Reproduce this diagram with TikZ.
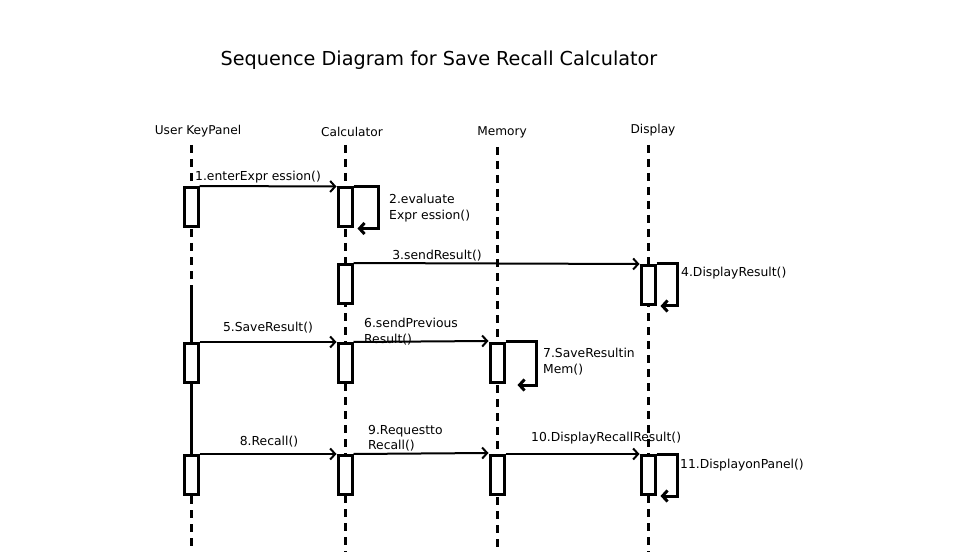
\documentclass[tikz,border=0pt]{standalone}
\usepackage{fontspec}
\setmainfont{DejaVu Sans}
\usetikzlibrary{arrows.meta}

\tikzset{
  head/.style={inner sep=0pt,font=\fontsize{12.2}{14}\selectfont},
  lifeline/.style={line width=3bp,dash pattern=on 8bp off 6bp},
  actbox/.style={draw,line width=3bp,fill=white,minimum width=14bp,minimum height=39bp,inner sep=0pt},
  msg/.style={-{Straight Barb[length=5bp,width=11bp]},line width=2bp},
  loop/.style={msg,line width=3bp},
  lbl/.style={inner sep=0pt,align=left,font=\fontsize{12.4}{15.5}\selectfont}
}

\begin{document}
\begin{tikzpicture}[x=1bp,y=-1bp]
\useasboundingbox (0,0) rectangle (970,552);
%%
\node[inner sep=0pt,font=\fontsize{19.3}{22}\selectfont] (title) at (439,60) {Sequence Diagram for Save Recall Calculator};
  % Lifeline heads
\node[head] (user) at (198,131.5) {User KeyPanel};
\node[head] (calc) at (352,131.5) {Calculator};
\node[head] (mem) at (502,132.5) {Memory};
\node[head] (disp) at (653,130.5) {Display};
\coordinate (usertop) at (191,145);
\coordinate (calctop) at (345,145);
\coordinate (memtop) at (497,147);
\coordinate (disptop) at (648,145);
\coordinate (usersolid) at (191,288);
  % Lifelines
\draw[lifeline] (usertop) -- (usersolid);
\draw[lifeline] (calctop) -- (345,552);
\draw[lifeline] (memtop) -- (497,552);
\draw[lifeline] (disptop) -- (648,552);
%
  % Activations
\node[actbox] (u1) at (191,207) {};
\node[actbox] (c1) at (345,207.5) {};
\node[actbox] (c2) at (345,284) {};
\node[actbox] (d1) at (648,285) {};
\node[actbox] (u2) at (191,363) {};
\node[actbox] (c3) at (345,363) {};
\node[actbox] (m1) at (497,363) {};
\node[actbox] (u3) at (191,475) {};
\node[actbox] (c4) at (345,475) {};
\node[actbox] (m2) at (497,475) {};
\node[actbox] (d2) at (648,475) {};
\draw[line width=3bp] (usersolid) -- (u2.north);
\draw[line width=3bp] (u2.south) -- (u3.north);
\draw[lifeline] (u3.south) -- (191,552);
%
  % Message: 1
\draw[msg] (u1.north east) -- (c1.north west);
\node[lbl,anchor=west] (l1) at (195,177) {1.enterExpr ession()};
  % Message: 2
\draw[loop] (c1.north east) -- ([xshift=25bp]c1.north east) |- ([xshift=4bp]c1.south east);
\node[lbl,anchor=west] (l2) at (389,208) {2.evaluate\\Expr ession()};
  % Message: 3
\draw[msg] (c2.north east) -- (d1.north west);
\node[lbl] (l3) at (437,256) {3.sendResult()};
  % Message: 4
\draw[loop] (d1.north east) -- ([xshift=21bp]d1.north east) |- ([xshift=4bp]d1.south east);
\node[lbl,anchor=west] (l4) at (681,273) {4.DisplayResult()};
  % Message: 5
\draw[msg] (u2.north east) -- (c3.north west);
\node[lbl] (l5) at (268,328) {5.SaveResult()};
  % Message: 6
\draw[msg] (c3.north east) -- ([yshift=1bp]m1.north west);
\node[lbl,anchor=west] (l6) at (364,331.5) {6.sendPrevious\\Result()};
  % Message: 7
\draw[loop] (m1.north east) -- ([xshift=31bp]m1.north east) |- ([xshift=12bp,yshift=-1bp]m1.south east);
\node[lbl,anchor=west] (l7) at (543,361.5) {7.SaveResultin\\Mem()};
  % Message: 8
\draw[msg] (u3.north east) -- (c4.north west);
\node[lbl] (l8) at (269,442) {8.Recall()};
  % Message: 9
\draw[msg] (c4.north east) -- ([yshift=1bp]m2.north west);
\node[lbl,anchor=west] (l9) at (368,438.5) {9.Requestto\\Recall()};
  % Message: 10
\draw[msg] (m2.north east) -- (d2.north west);
\node[lbl,anchor=west] (l10) at (531,438) {10.DisplayRecallResult()};
  % Message: 11
\draw[loop] (d2.north east) -- ([xshift=21bp]d2.north east) |- ([xshift=4bp]d2.south east);
\node[lbl,anchor=west] (l11) at (680,465) {11.DisplayonPanel()};
%
\end{tikzpicture}
\end{document}
